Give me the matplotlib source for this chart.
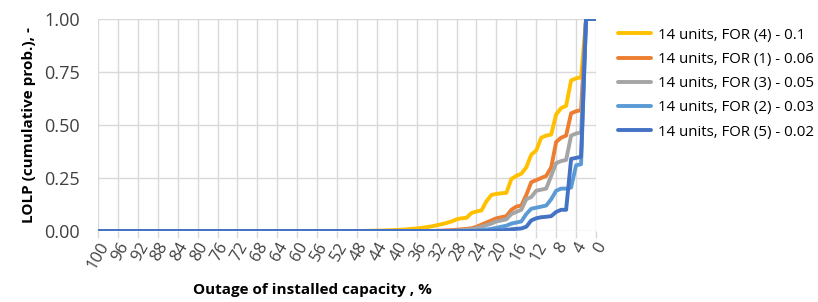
#!/usr/bin/env python3
"""LOLP cumulative probability vs outage of installed capacity (14 units, various FOR)."""
import matplotlib
matplotlib.use("Agg")
import matplotlib.pyplot as plt

# outage of installed capacity [%] - 100 down to 0 (all curves are 0 above 48 %)
outage = [100, 48, 47, 46, 45, 44, 43, 42, 41, 40, 39, 38, 37, 36, 35, 34, 33,
          32, 31, 30, 29, 28, 27, 26, 25, 24, 23, 22, 21, 20, 19, 18, 17, 16,
          15, 14, 13, 12, 11, 10, 9, 8, 7, 6, 5, 4, 3, 2, 1, 0]

for_4 = [0, 0, 0, 0.001, 0.001, 0.002, 0.002, 0.003, 0.004, 0.005, 0.006, 0.008,
         0.010, 0.012, 0.015, 0.018, 0.022, 0.027, 0.032, 0.038, 0.045, 0.055,
         0.060, 0.062, 0.085, 0.092, 0.097, 0.140, 0.170, 0.175, 0.178, 0.180,
         0.245, 0.260, 0.270, 0.300, 0.360, 0.380, 0.440, 0.450, 0.455, 0.550,
         0.580, 0.590, 0.710, 0.720, 0.725, 1.0, 1.0, 1.0]
for_1 = [0, 0, 0, 0, 0, 0, 0, 0, 0, 0, 0, 0, 0, 0, 0, 0, 0, 0.001, 0.002, 0.003,
         0.004, 0.006, 0.008, 0.010, 0.013, 0.020, 0.030, 0.040, 0.050, 0.060,
         0.065, 0.070, 0.100, 0.115, 0.120, 0.170, 0.230, 0.240, 0.250, 0.260,
         0.300, 0.420, 0.440, 0.450, 0.555, 0.565, 0.570, 1.0, 1.0, 1.0]
for_3 = [0, 0, 0, 0, 0, 0, 0, 0, 0, 0, 0, 0, 0, 0, 0, 0, 0, 0, 0, 0, 0.001,
         0.002, 0.004, 0.006, 0.009, 0.013, 0.020, 0.028, 0.035, 0.045, 0.050,
         0.055, 0.080, 0.090, 0.100, 0.150, 0.160, 0.190, 0.195, 0.200, 0.260,
         0.320, 0.330, 0.335, 0.450, 0.460, 0.465, 1.0, 1.0, 1.0]
for_2 = [0, 0, 0, 0, 0, 0, 0, 0, 0, 0, 0, 0, 0, 0, 0, 0, 0, 0, 0, 0, 0, 0, 0, 0,
         0.001, 0.002, 0.004, 0.007, 0.010, 0.015, 0.020, 0.025, 0.035, 0.040,
         0.045, 0.080, 0.105, 0.110, 0.115, 0.120, 0.150, 0.190, 0.200, 0.200,
         0.205, 0.310, 0.315, 1.0, 1.0, 1.0]
for_5 = [0, 0, 0, 0, 0, 0, 0, 0, 0, 0, 0, 0, 0, 0, 0, 0, 0, 0, 0, 0, 0, 0, 0, 0,
         0, 0, 0, 0, 0.001, 0.002, 0.003, 0.005, 0.008, 0.010, 0.012, 0.020,
         0.050, 0.060, 0.065, 0.067, 0.070, 0.090, 0.100, 0.100, 0.340, 0.345,
         0.350, 1.0, 1.0, 1.0]

series = [
    ("14 units, FOR (4) - 0.1", for_4, "#FFC000"),
    ("14 units, FOR (1) - 0.06", for_1, "#ED7D31"),
    ("14 units, FOR (3) - 0.05", for_3, "#A5A5A5"),
    ("14 units, FOR (2) - 0.03", for_2, "#5B9BD5"),
    ("14 units, FOR (5) - 0.02", for_5, "#4472C4"),
]
xticks = list(range(100, -1, -4))
yticks = [0.0, 0.25, 0.5, 0.75, 1.0]

plt.rcParams["font.family"] = ["Open Sans", "DejaVu Sans"]

W, H = 818, 302
fig = plt.figure(figsize=(W / 100, H / 100), dpi=100)
ax = fig.add_axes([98 / W, (H - 231) / H, (596 - 98) / W, 212 / H])

for label, vals, col in series:
    ax.plot(outage, vals, color=col, lw=2.8, label=label,
            solid_joinstyle="round", solid_capstyle="round")

ax.set_xlim(100, 0)
ax.set_ylim(0, 1)
ax.set_xticks(xticks)
ax.set_xticklabels([str(t) for t in xticks], rotation=60, ha="right",
                   va="top", rotation_mode="anchor", fontsize=12, color="#404040")
ax.set_yticks(yticks)
ax.set_yticklabels([f"{t:.2f}" for t in yticks], fontsize=13, color="#404040")
ax.tick_params(axis="x", length=5, color="#D9D9D9", width=1, pad=1)
ax.tick_params(axis="y", length=0, pad=13)
ax.grid(color="#D9D9D9", lw=1)
ax.set_axisbelow(True)
for s in ax.spines.values():
    s.set_visible(False)

ax.set_ylabel("LOLP (cumulative prob.), -", fontsize=11, fontweight="bold",
              labelpad=6)
fig.text(312 / W, 1 - 290 / H, "Outage of installed capacity , %", ha="center",
         va="center", fontsize=11, fontweight="bold")

fig.legend(loc="upper left", bbox_to_anchor=(604 / W, 1 - 14 / H), frameon=False,
           fontsize=10.8, handlelength=2.2, labelspacing=0.62, handletextpad=0.5)

fig.savefig("out.png", dpi=100)
